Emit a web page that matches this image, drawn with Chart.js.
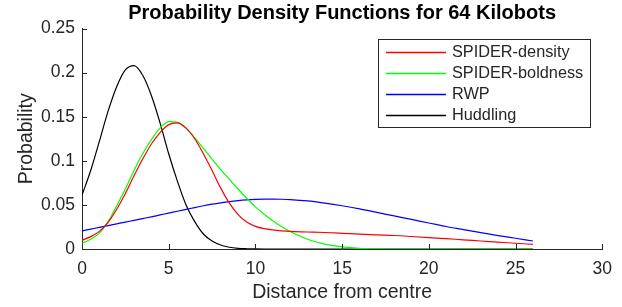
<!DOCTYPE html>
<html lang="en">
<head>
    <meta charset="UTF-8" />
    <title>Probability Density Functions for 64 Kilobots</title>
    <script src="https://cdn.jsdelivr.net/npm/chart.js"></script>
    <style>
        html, body { margin: 0; padding: 0; background: #fff; }
        .wrap { position: relative; width: 622px; height: 307px; }
    </style>
</head>
<body>
<div class="wrap">
    <canvas id="pdfChart" width="622" height="307"></canvas>
</div>

<script>
    // distance from centre (shared x values)
    const distance = [0, 0.5, 1, 1.5, 2, 2.5, 3, 3.5, 4, 4.5, 5, 5.5, 6, 6.5, 7, 7.5, 8, 8.5, 9, 9.5,
        10, 10.5, 11, 11.5, 12, 13, 14, 15, 16, 17, 18, 19, 20, 21, 22, 23, 24, 25, 26];

    const spiderDensity = [0.0098, 0.014, 0.020, 0.030, 0.045, 0.063, 0.083, 0.102, 0.119, 0.132,
        0.141, 0.143, 0.137, 0.125, 0.108, 0.089, 0.069, 0.052, 0.039, 0.0305,
        0.0257, 0.0231, 0.0216, 0.0206, 0.0199, 0.0193, 0.0187, 0.0178, 0.0168, 0.0160,
        0.0153, 0.0142, 0.0130, 0.0117, 0.0104, 0.0091, 0.0078, 0.0065, 0.0053];

    const spiderBoldness = [0.0065, 0.011, 0.018, 0.031, 0.049, 0.068, 0.089, 0.108, 0.124, 0.137,
        0.1445, 0.1435, 0.137, 0.126, 0.114, 0.102, 0.090, 0.079, 0.068, 0.0575,
        0.0478, 0.0395, 0.032, 0.0255, 0.0198, 0.011, 0.0055, 0.0025, 0.0008, 0.0002,
        0, 0, 0, 0, 0, 0, 0, 0, 0];

    const rwp = [0.0205, 0.0225, 0.0245, 0.0265, 0.0285, 0.0305, 0.0325, 0.0345, 0.0365, 0.0386,
        0.0407, 0.0428, 0.0449, 0.047, 0.049, 0.0508, 0.0524, 0.0538, 0.0549, 0.0557,
        0.0562, 0.0565, 0.0566, 0.0564, 0.056, 0.0545, 0.052, 0.049, 0.0455, 0.0415,
        0.0375, 0.0335, 0.0295, 0.0255, 0.022, 0.0185, 0.0152, 0.0122, 0.0091];

    const huddling = [0.061, 0.089, 0.122, 0.156, 0.184, 0.203, 0.208, 0.197, 0.174, 0.143,
        0.108, 0.077, 0.050, 0.031, 0.017, 0.009, 0.0045, 0.002, 0.0008, 0.0003,
        0.0001, 0, 0, 0, 0, 0, 0, 0, 0, 0,
        0, 0, 0, 0, 0, 0, 0, 0, 0];

    const seriesNames = ['SPIDER-density', 'SPIDER-boldness', 'RWP', 'Huddling'];
    const seriesColors = ['#ff0000', '#00ff00', '#0000ff', '#000000'];

    const xTicks = [0, 5, 10, 15, 20, 25, 30];
    const yTickLabels = ['0', '0.05', '0.1', '0.15', '0.2', '0.25'];

    const chartTitle = 'Probability Density Functions for 64 Kilobots';

    const AXIS = '#262626';
    const FONT = "'Liberation Sans', Arial, Helvetica, sans-serif";

    function toPoints(ys) {
        return ys.map((y, i) => ({ x: distance[i], y: y }));
    }

    // title centred over the plot area, like matlab does
    const plotTitle = {
        id: 'plotTitle',
        afterDraw(chart) {
            const { ctx, chartArea } = chart;
            ctx.save();
            ctx.font = 'bold 20px ' + FONT;
            ctx.fillStyle = '#000';
            ctx.textAlign = 'center';
            ctx.textBaseline = 'middle';
            ctx.fillText(chartTitle, (chartArea.left + chartArea.right) / 2, 13);
            ctx.restore();
        }
    };

    // matlab style ticks pointing into the plot
    const innerTicks = {
        id: 'innerTicks',
        afterDatasetsDraw(chart) {
            const { ctx, chartArea, scales } = chart;
            ctx.save();
            ctx.strokeStyle = AXIS;
            ctx.lineWidth = 1;
            ctx.beginPath();
            scales.x.ticks.forEach(t => {
                const px = Math.round(scales.x.getPixelForValue(t.value)) + 0.5;
                ctx.moveTo(px, chartArea.bottom);
                ctx.lineTo(px, chartArea.bottom - 5);
            });
            scales.y.ticks.forEach(t => {
                const py = Math.round(scales.y.getPixelForValue(t.value)) + 0.5;
                ctx.moveTo(chartArea.left, py);
                ctx.lineTo(chartArea.left + 5, py);
            });
            ctx.stroke();
            ctx.restore();
        }
    };

    // boxed legend inside the top right corner
    const boxLegend = {
        id: 'boxLegend',
        afterDatasetsDraw(chart) {
            const { ctx } = chart;
            const left = 378.5, top = 39.5, w = 212, h = 88;
            ctx.save();
            ctx.fillStyle = '#fff';
            ctx.fillRect(left, top, w, h);
            ctx.strokeStyle = AXIS;
            ctx.lineWidth = 1;
            ctx.strokeRect(left, top, w, h);
            ctx.font = '16.3px ' + FONT;
            ctx.textBaseline = 'middle';
            chart.data.datasets.forEach((ds, i) => {
                const y = 52.5 + i * 21;
                ctx.strokeStyle = ds.borderColor;
                ctx.lineWidth = 1.4;
                ctx.beginPath();
                ctx.moveTo(386, y);
                ctx.lineTo(446, y);
                ctx.stroke();
                ctx.fillStyle = AXIS;
                ctx.fillText(ds.label, 452, y);
            });
            ctx.restore();
        }
    };

    const ctx = document.getElementById('pdfChart').getContext('2d');
    new Chart(ctx, {
        type: 'line',
        data: {
            datasets: [spiderDensity, spiderBoldness, rwp, huddling].map((ys, i) => ({
                label: seriesNames[i],
                data: toPoints(ys),
                borderColor: seriesColors[i],
                borderWidth: 1.2,
                pointRadius: 0,
                fill: false,
                cubicInterpolationMode: 'monotone'
            }))
        },
        options: {
            responsive: false,
            animation: false,
            layout: { padding: { left: 0, right: 18, top: 28.5, bottom: 0 } },
            plugins: {
                legend: { display: false },
                tooltip: { enabled: false },
                title: { display: false }
            },
            scales: {
                x: {
                    type: 'linear',
                    min: 0,
                    max: 30,
                    afterFit(scale) { scale.height = 58; },
                    afterBuildTicks(scale) { scale.ticks = xTicks.map(v => ({ value: v })); },
                    grid: { display: false, drawTicks: false },
                    border: { display: true, color: AXIS, width: 1 },
                    ticks: {
                        color: AXIS,
                        padding: 10,
                        maxRotation: 0,
                        font: { family: FONT, size: 17.5 },
                        callback: v => String(v)
                    },
                    title: {
                        display: true,
                        text: 'Distance from centre',
                        color: AXIS,
                        font: { family: FONT, size: 19.5, lineHeight: 1.2 },
                        padding: { top: 0, bottom: 3 }
                    }
                },
                y: {
                    min: 0,
                    max: 0.25,
                    afterFit(scale) { scale.width = 82; },
                    afterBuildTicks(scale) { scale.ticks = yTickLabels.map(s => ({ value: Number(s) })); },
                    grid: { display: false, drawTicks: false },
                    border: { display: true, color: AXIS, width: 1 },
                    ticks: {
                        color: AXIS,
                        padding: 7,
                        font: { family: FONT, size: 17.5 },
                        callback: (v, i) => yTickLabels[i]
                    },
                    title: {
                        display: true,
                        text: 'Probability',
                        color: AXIS,
                        font: { family: FONT, size: 19.5, lineHeight: 1.2 },
                        padding: { top: 15, bottom: 0 }
                    }
                }
            }
        },
        plugins: [innerTicks, boxLegend, plotTitle]
    });
</script>
</body>
</html>
